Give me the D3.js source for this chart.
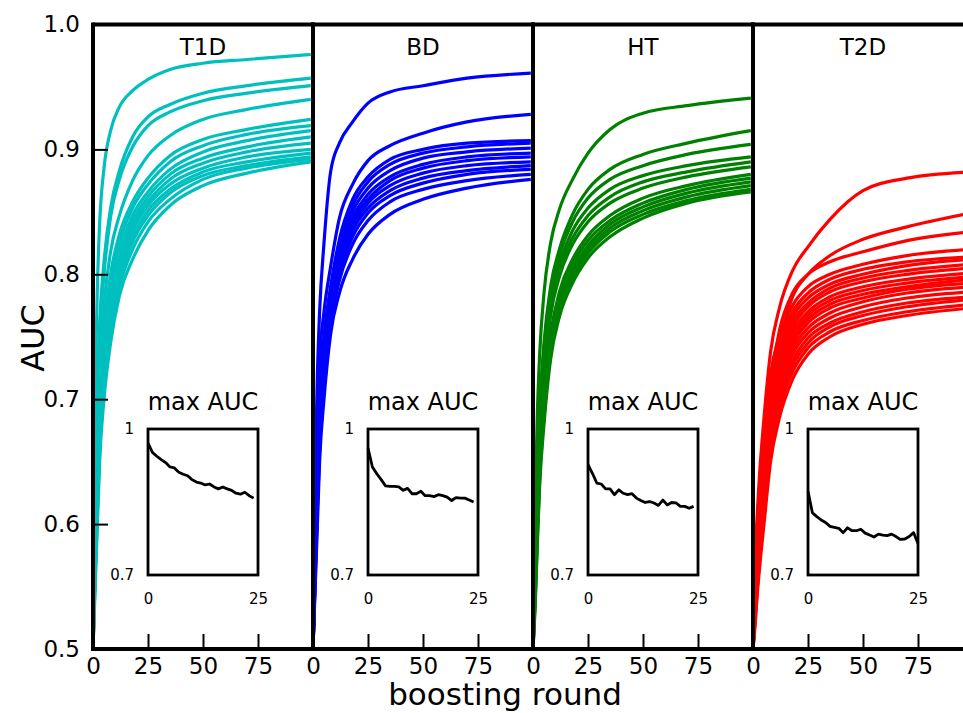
<!DOCTYPE html>
<html>
<head>
<meta charset="utf-8">
<script src="https://cdn.jsdelivr.net/npm/d3@7"></script>
<style>
  body { margin: 0; background: #fff; }
  svg { display: block; font-family: "DejaVu Sans", sans-serif; }
</style>
</head>
<body>
<div id="chart"></div>
<script>

const rounds = [0, 1, 2, 3, 5, 8, 12, 18, 25, 35, 50, 70, 99];

const t1dCurves = [
    [0.50, 0.70, 0.79, 0.84, 0.885, 0.915, 0.934, 0.947, 0.956, 0.964, 0.969, 0.972, 0.976],
    [0.50, 0.63, 0.71, 0.76, 0.81, 0.853, 0.883, 0.910, 0.926, 0.936, 0.945, 0.951, 0.957],
    [0.50, 0.62, 0.70, 0.75, 0.80, 0.846, 0.876, 0.902, 0.919, 0.930, 0.939, 0.945, 0.951],
    [0.50, 0.60, 0.67, 0.72, 0.775, 0.818, 0.847, 0.875, 0.895, 0.911, 0.924, 0.932, 0.940],
    [0.50, 0.59, 0.65, 0.70, 0.755, 0.800, 0.832, 0.858, 0.877, 0.895, 0.908, 0.916, 0.924],
    [0.50, 0.58, 0.64, 0.69, 0.745, 0.790, 0.825, 0.853, 0.872, 0.890, 0.903, 0.912, 0.919],
    [0.50, 0.58, 0.64, 0.685, 0.74, 0.785, 0.818, 0.847, 0.866, 0.884, 0.898, 0.907, 0.915],
    [0.50, 0.57, 0.63, 0.68, 0.735, 0.780, 0.813, 0.842, 0.862, 0.880, 0.893, 0.902, 0.910],
    [0.50, 0.57, 0.63, 0.675, 0.73, 0.775, 0.808, 0.838, 0.858, 0.876, 0.889, 0.898, 0.905],
    [0.50, 0.57, 0.62, 0.67, 0.725, 0.770, 0.805, 0.835, 0.855, 0.872, 0.885, 0.894, 0.900],
    [0.50, 0.56, 0.62, 0.665, 0.72, 0.765, 0.800, 0.830, 0.851, 0.868, 0.882, 0.890, 0.897],
    [0.50, 0.56, 0.61, 0.66, 0.715, 0.760, 0.795, 0.826, 0.847, 0.865, 0.879, 0.887, 0.894],
    [0.50, 0.56, 0.61, 0.655, 0.71, 0.755, 0.790, 0.820, 0.842, 0.860, 0.876, 0.885, 0.892],
    [0.50, 0.55, 0.60, 0.65, 0.70, 0.745, 0.783, 0.812, 0.835, 0.855, 0.871, 0.881, 0.890]
];

const bdCurves = [
    [0.50, 0.64, 0.72, 0.77, 0.825, 0.882, 0.905, 0.922, 0.937, 0.946, 0.951, 0.957, 0.961],
    [0.50, 0.60, 0.68, 0.73, 0.77, 0.806, 0.845, 0.872, 0.891, 0.903, 0.913, 0.922, 0.928],
    [0.50, 0.58, 0.65, 0.70, 0.75, 0.790, 0.828, 0.860, 0.878, 0.892, 0.900, 0.905, 0.907],
    [0.50, 0.58, 0.645, 0.695, 0.745, 0.786, 0.823, 0.855, 0.874, 0.888, 0.897, 0.902, 0.905],
    [0.50, 0.575, 0.64, 0.69, 0.74, 0.782, 0.818, 0.850, 0.869, 0.883, 0.893, 0.898, 0.901],
    [0.50, 0.57, 0.635, 0.685, 0.735, 0.778, 0.814, 0.845, 0.864, 0.878, 0.888, 0.894, 0.897],
    [0.50, 0.57, 0.63, 0.68, 0.73, 0.775, 0.811, 0.842, 0.860, 0.875, 0.885, 0.891, 0.894],
    [0.50, 0.565, 0.625, 0.675, 0.725, 0.772, 0.808, 0.838, 0.857, 0.871, 0.881, 0.887, 0.890],
    [0.50, 0.56, 0.62, 0.67, 0.72, 0.768, 0.805, 0.835, 0.853, 0.867, 0.877, 0.883, 0.887],
    [0.50, 0.56, 0.615, 0.665, 0.715, 0.765, 0.800, 0.830, 0.849, 0.863, 0.873, 0.880, 0.884],
    [0.50, 0.555, 0.61, 0.66, 0.71, 0.760, 0.795, 0.824, 0.843, 0.858, 0.868, 0.875, 0.880],
    [0.50, 0.55, 0.60, 0.65, 0.70, 0.752, 0.785, 0.812, 0.832, 0.848, 0.860, 0.869, 0.876]
];

const htCurves = [
    [0.50, 0.62, 0.69, 0.735, 0.785, 0.825, 0.852, 0.876, 0.897, 0.916, 0.929, 0.935, 0.941],
    [0.50, 0.58, 0.645, 0.69, 0.745, 0.790, 0.820, 0.848, 0.868, 0.884, 0.896, 0.905, 0.915],
    [0.50, 0.575, 0.64, 0.685, 0.74, 0.785, 0.815, 0.842, 0.861, 0.876, 0.887, 0.896, 0.904],
    [0.50, 0.57, 0.63, 0.675, 0.73, 0.777, 0.808, 0.835, 0.853, 0.868, 0.879, 0.887, 0.894],
    [0.50, 0.565, 0.625, 0.67, 0.725, 0.772, 0.803, 0.829, 0.847, 0.862, 0.874, 0.882, 0.890],
    [0.50, 0.56, 0.62, 0.665, 0.72, 0.767, 0.798, 0.824, 0.842, 0.857, 0.869, 0.878, 0.886],
    [0.50, 0.555, 0.61, 0.655, 0.705, 0.752, 0.786, 0.812, 0.831, 0.847, 0.861, 0.871, 0.880],
    [0.50, 0.55, 0.605, 0.65, 0.70, 0.748, 0.782, 0.808, 0.827, 0.843, 0.857, 0.868, 0.877],
    [0.50, 0.545, 0.60, 0.645, 0.695, 0.744, 0.778, 0.804, 0.823, 0.840, 0.854, 0.865, 0.874],
    [0.50, 0.54, 0.595, 0.64, 0.69, 0.740, 0.774, 0.800, 0.820, 0.837, 0.851, 0.862, 0.871],
    [0.50, 0.54, 0.59, 0.635, 0.685, 0.736, 0.770, 0.797, 0.817, 0.834, 0.848, 0.859, 0.868],
    [0.50, 0.535, 0.585, 0.63, 0.68, 0.732, 0.766, 0.793, 0.813, 0.830, 0.845, 0.857, 0.866]
];

const t2dCurves = [
    [0.50, 0.57, 0.61, 0.64, 0.685, 0.738, 0.773, 0.803, 0.822, 0.844, 0.867, 0.877, 0.882],
    [0.50, 0.56, 0.60, 0.63, 0.67, 0.710, 0.745, 0.782, 0.800, 0.815, 0.828, 0.838, 0.849],
    [0.50, 0.56, 0.60, 0.63, 0.67, 0.715, 0.755, 0.785, 0.800, 0.810, 0.818, 0.827, 0.834],
    [0.50, 0.56, 0.60, 0.63, 0.67, 0.720, 0.750, 0.775, 0.790, 0.800, 0.808, 0.815, 0.820],
    [0.50, 0.555, 0.595, 0.625, 0.665, 0.713, 0.745, 0.770, 0.785, 0.796, 0.804, 0.810, 0.814],
    [0.50, 0.55, 0.59, 0.62, 0.66, 0.708, 0.740, 0.766, 0.781, 0.792, 0.800, 0.807, 0.812],
    [0.50, 0.55, 0.59, 0.615, 0.655, 0.703, 0.736, 0.762, 0.777, 0.789, 0.797, 0.803, 0.808],
    [0.50, 0.545, 0.585, 0.61, 0.65, 0.698, 0.732, 0.758, 0.774, 0.786, 0.794, 0.800, 0.805],
    [0.50, 0.545, 0.58, 0.605, 0.645, 0.694, 0.728, 0.754, 0.770, 0.782, 0.790, 0.796, 0.801],
    [0.50, 0.54, 0.575, 0.60, 0.64, 0.690, 0.724, 0.750, 0.767, 0.779, 0.787, 0.793, 0.798],
    [0.50, 0.54, 0.575, 0.60, 0.64, 0.686, 0.720, 0.747, 0.764, 0.776, 0.784, 0.790, 0.796],
    [0.50, 0.535, 0.57, 0.595, 0.635, 0.682, 0.716, 0.744, 0.761, 0.773, 0.781, 0.788, 0.793],
    [0.50, 0.535, 0.565, 0.59, 0.63, 0.678, 0.712, 0.740, 0.757, 0.769, 0.778, 0.785, 0.790],
    [0.50, 0.53, 0.56, 0.585, 0.625, 0.673, 0.708, 0.736, 0.753, 0.765, 0.774, 0.781, 0.786],
    [0.50, 0.53, 0.555, 0.58, 0.62, 0.668, 0.703, 0.731, 0.749, 0.761, 0.770, 0.777, 0.782],
    [0.50, 0.525, 0.55, 0.575, 0.615, 0.663, 0.698, 0.727, 0.745, 0.758, 0.767, 0.774, 0.780],
    [0.50, 0.525, 0.55, 0.57, 0.61, 0.657, 0.692, 0.722, 0.741, 0.754, 0.763, 0.770, 0.776],
    [0.50, 0.52, 0.545, 0.565, 0.60, 0.650, 0.685, 0.716, 0.736, 0.750, 0.760, 0.767, 0.773]
];

// inset "max AUC" series, one value per step (x = index)
const t1dMax = [0.971, 0.952, 0.944, 0.937, 0.931, 0.922, 0.920, 0.911, 0.907, 0.904, 0.896, 0.891, 0.889,
    0.885, 0.887, 0.881, 0.877, 0.881, 0.877, 0.874, 0.868, 0.866, 0.870, 0.863, 0.858];
const bdMax = [0.961, 0.922, 0.908, 0.896, 0.883, 0.882, 0.882, 0.881, 0.874, 0.878, 0.867, 0.867, 0.872,
    0.863, 0.863, 0.861, 0.865, 0.863, 0.860, 0.853, 0.859, 0.858, 0.858, 0.854, 0.850];
const htMax = [0.927, 0.909, 0.889, 0.887, 0.877, 0.877, 0.865, 0.875, 0.868, 0.865, 0.867, 0.858, 0.853,
    0.849, 0.851, 0.848, 0.843, 0.854, 0.844, 0.849, 0.848, 0.841, 0.841, 0.837, 0.841];
const t2dMax = [0.872, 0.828, 0.820, 0.813, 0.808, 0.800, 0.798, 0.796, 0.787, 0.797, 0.791, 0.791, 0.794,
    0.786, 0.782, 0.778, 0.784, 0.782, 0.781, 0.784, 0.779, 0.773, 0.774, 0.779, 0.787, 0.765];

const panelNames = ["T1D", "BD", "HT", "T2D"];
const panelColors = ["#00bfbf", "#0000ff", "#008000", "#ff0000"];
const panelCurves = [t1dCurves, bdCurves, htCurves, t2dCurves];
const panelMax = [t1dMax, bdMax, htMax, t2dMax];

const yTicks = [0.5, 0.6, 0.7, 0.8, 0.9, 1.0];
const xTicks = [0, 25, 50, 75];

// layout
const W = 963, H = 713;
const marginLeft = 93, marginTop = 24.5;
const panelW = 220, panelH = 624.5;

const svg = d3.select("#chart").append("svg")
    .attr("width", W)
    .attr("height", H);

const x = d3.scaleLinear().domain([0, 100]).range([0, panelW]);
const y = d3.scaleLinear().domain([0.5, 1.0]).range([panelH, 0]);

// inset sits between rounds 25 and 75 of each panel
const insetX0 = x(25), insetW = x(75) - x(25);
const insetY0 = 404.5, insetH = 146;
const xi = d3.scaleLinear().domain([0, 25]).range([0, insetW]);
const yi = d3.scaleLinear().domain([0.7, 1.0]).range([insetH, 0]);

const line = d3.line()
    .x((d, i) => x(rounds[i]))
    .y(d => y(d))
    .curve(d3.curveMonotoneX);

const insetLine = d3.line()
    .x((d, i) => xi(i))
    .y(d => yi(d));

panelNames.forEach((name, p) => {
    const g = svg.append("g")
        .attr("transform", `translate(${marginLeft + p * panelW},${marginTop})`);

    g.append("clipPath").attr("id", "clip" + p)
        .append("rect")
        .attr("width", panelW)
        .attr("height", panelH);

    // curves
    g.append("g")
        .attr("clip-path", `url(#clip${p})`)
        .selectAll("path")
        .data(panelCurves[p])
        .enter().append("path")
        .attr("d", line)
        .attr("fill", "none")
        .attr("stroke", panelColors[p])
        .attr("stroke-width", 3.2)
        .attr("stroke-linejoin", "round");

    // x axis with inward ticks
    const xAxis = g.append("g")
        .attr("transform", `translate(0,${panelH})`)
        .call(d3.axisBottom(x).tickValues(xTicks).tickSize(-15).tickPadding(9));
    xAxis.select(".domain").remove();
    xAxis.selectAll(".tick line").attr("stroke-width", 2);
    xAxis.selectAll(".tick text").attr("font-size", 23).attr("font-family", "DejaVu Sans");

    if (p === 0) {
        const yAxis = g.append("g")
            .call(d3.axisLeft(y).tickValues(yTicks).tickSize(-15).tickPadding(13)
                .tickFormat(d3.format(".1f")));
        yAxis.select(".domain").remove();
        yAxis.selectAll(".tick line").attr("stroke-width", 2);
        yAxis.selectAll(".tick text").attr("font-size", 23).attr("font-family", "DejaVu Sans");
    }

    // spines
    g.append("line").attr("x1", 0).attr("x2", 0).attr("y1", -2).attr("y2", panelH + 2)
        .attr("stroke", "#000").attr("stroke-width", 4);
    g.append("line").attr("x1", 0).attr("x2", panelW).attr("y1", 0).attr("y2", 0)
        .attr("stroke", "#000").attr("stroke-width", 4);
    g.append("line").attr("x1", 0).attr("x2", panelW).attr("y1", panelH).attr("y2", panelH)
        .attr("stroke", "#000").attr("stroke-width", 4);
    g.append("line").attr("x1", panelW).attr("x2", panelW).attr("y1", -2).attr("y2", panelH + 2)
        .attr("stroke", "#000").attr("stroke-width", 4);

    g.append("text")
        .attr("x", panelW / 2)
        .attr("y", 30.5)
        .attr("text-anchor", "middle")
        .attr("font-size", 23)
        .text(name);

    // inset
    const ins = g.append("g")
        .attr("transform", `translate(${insetX0},${insetY0})`);

    ins.append("text")
        .attr("x", insetW / 2)
        .attr("y", -19)
        .attr("text-anchor", "middle")
        .attr("font-size", 24)
        .text("max AUC");

    ins.append("path")
        .datum(panelMax[p])
        .attr("d", insetLine)
        .attr("fill", "none")
        .attr("stroke", "#000")
        .attr("stroke-width", 2.8)
        .attr("stroke-linejoin", "round");

    ins.append("rect")
        .attr("width", insetW)
        .attr("height", insetH)
        .attr("fill", "none")
        .attr("stroke", "#000")
        .attr("stroke-width", 2.8);

    const iy = ins.append("g")
        .call(d3.axisLeft(yi).tickValues([0.7, 1.0]).tickSize(0).tickPadding(14)
            .tickFormat(d => d === 1 ? "1" : "0.7"));
    const ix = ins.append("g")
        .attr("transform", `translate(0,${insetH})`)
        .call(d3.axisBottom(xi).tickValues([0, 25]).tickSize(0).tickPadding(18));
    [iy, ix].forEach(a => {
        a.select(".domain").remove();
        a.selectAll(".tick text").attr("font-size", 15).attr("font-family", "DejaVu Sans");
    });
});

svg.append("text")
    .attr("x", 505)
    .attr("y", 705)
    .attr("text-anchor", "middle")
    .attr("font-size", 31)
    .text("boosting round");

svg.append("text")
    .attr("transform", "translate(44,338) rotate(-90)")
    .attr("text-anchor", "middle")
    .attr("font-size", 32)
    .text("AUC");
</script>
</body>
</html>
